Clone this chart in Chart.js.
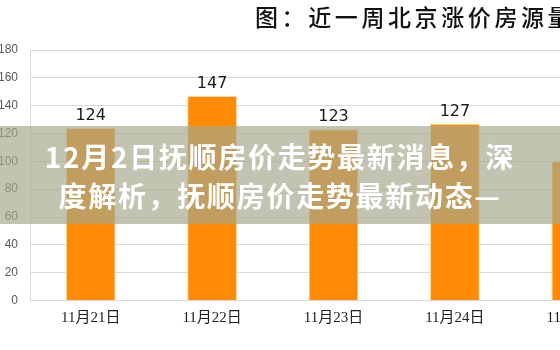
<!DOCTYPE html>
<html>
<head>
<meta charset="utf-8">
<script src="https://cdn.jsdelivr.net/npm/chart.js@4/dist/chart.umd.min.js"></script>
<style>
  html, body { margin: 0; padding: 0; width: 560px; height: 350px; overflow: hidden; background: #fff; }
  #wrap { position: relative; width: 560px; height: 350px; overflow: hidden; }
  #box { position: absolute; left: 0; top: 0; width: 640px; height: 350px; }
  #title {
    position: absolute; left: 255px; top: 4px; white-space: nowrap;
    font: 500 23px/25px "Noto Sans CJK SC", sans-serif; letter-spacing: 3.6px; color: #111;
  }
  #banner {
    position: absolute; left: 0; top: 126px; width: 560px; height: 98px; box-sizing: border-box;
    padding-top: 11px; background: rgba(165, 167, 140, 0.68);
    text-align: center; color: #fff;
    font: bold 28px/38.5px "Noto Sans CJK SC", sans-serif; letter-spacing: 1.7px;
  }
</style>
</head>
<body>
<div id="wrap">
  <div id="box"><canvas id="c" width="640" height="350"></canvas></div>
  <div id="title">图：近一周北京涨价房源量</div>
  <div id="banner">12月2日抚顺房价走势最新消息，深<br>度解析，抚顺房价走势最新动态—</div>
</div>
<script>
// 近一周北京涨价房源量
const days = ["11月21日", "11月22日", "11月23日", "11月24日", "11月25日"];
const listings = [124, 147, 123, 127, 100];
const yTicks = [0, 20, 40, 60, 80, 100, 120, 140, 160, 180];

const gridColor = "#d9d9d9";

// value labels above each bar
const valueLabels = {
  id: "valueLabels",
  afterDatasetsDraw(chart) {
    const ctx = chart.ctx;
    const meta = chart.getDatasetMeta(0);
    ctx.save();
    ctx.font = "16px 'DejaVu Sans', sans-serif";
    ctx.fillStyle = "#1a1a1a";
    ctx.textAlign = "center";
    ctx.textBaseline = "bottom";
    meta.data.forEach((bar, i) => {
      ctx.fillText(String(chart.data.datasets[0].data[i]), bar.x, bar.y - 4);
    });
    ctx.restore();
  }
};

new Chart(document.getElementById("c"), {
  type: "bar",
  data: {
    labels: days,
    datasets: [{
      data: listings,
      backgroundColor: "#ff8a05",
      borderColor: "rgba(255, 214, 150, 0.9)",
      borderWidth: 1,
      barPercentage: 0.41,
      categoryPercentage: 1
    }]
  },
  options: {
    responsive: false,
    animation: false,
    devicePixelRatio: 1,
    layout: { padding: { top: 50, right: 3, left: 0, bottom: 0 } },
    plugins: { legend: { display: false }, tooltip: { enabled: false } },
    scales: {
      x: {
        grid: { display: false, drawTicks: false },
        border: { display: false },
        ticks: {
          padding: 9,
          color: "#222",
          font: { family: "'Liberation Serif', 'Noto Sans CJK SC', serif", size: 15 }
        },
        afterFit(s) { s.height = 49.5; }
      },
      y: {
        min: 0,
        max: 180,
        afterBuildTicks(s) { s.ticks = yTicks.map(v => ({ value: v })); },
        grid: { color: gridColor, lineWidth: 1, drawTicks: false },
        border: { display: true, color: gridColor, width: 1 },
        ticks: {
          padding: 12,
          color: "#595959",
          font: { family: "'Liberation Sans', Arial, sans-serif", size: 12 }
        },
        afterFit(s) { s.width = 30; }
      }
    }
  },
  plugins: [valueLabels]
});
</script>
</body>
</html>
